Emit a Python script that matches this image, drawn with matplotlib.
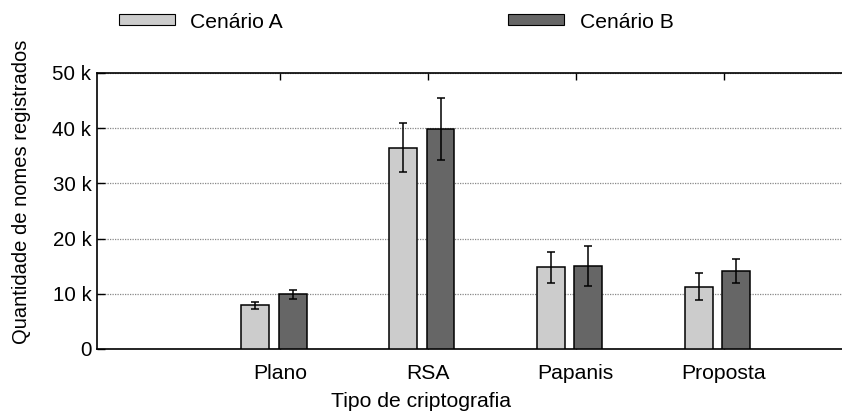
import numpy as np
import matplotlib
matplotlib.use('Agg')
import matplotlib.pyplot as plt
from matplotlib.ticker import FuncFormatter
from matplotlib.patches import Patch

# --- Dados ---
categorias = ['Plano', 'RSA', 'Papanis', 'Proposta']
cenario_a = [7950, 36500, 14800, 11300]
erro_a = [650, 4400, 2800, 2400]
cenario_b = [9900, 39900, 15000, 14150]
erro_b = [850, 5650, 3600, 2150]
y_ticks = [0, 10000, 20000, 30000, 40000, 50000]

# --- Estilo ---
plt.rcParams['font.family'] = ['Liberation Sans', 'DejaVu Sans']
FS = 15.2       # textos horizontais
FS_Y = 14.5     # rótulo vertical
COR_A = '#cccccc'
COR_B = '#666666'

fig = plt.figure(figsize=(8.42, 4.17), dpi=100)
ax = fig.add_axes([97 / 842, 1 - 349 / 417, 1 - 97 / 842, (349 - 73) / 417])

x = np.arange(1, len(categorias) + 1)
largura = 0.189

ax.bar(x - 0.166, cenario_a, largura, color=COR_A, edgecolor='black', linewidth=1.1, zorder=3)
ax.bar(x + 0.086, cenario_b, largura, color=COR_B, edgecolor='black', linewidth=1.1, zorder=3)
ax.errorbar(x - 0.166, cenario_a, yerr=erro_a, fmt='none', ecolor='black',
            elinewidth=1.1, capsize=2.6, capthick=1.1, zorder=4)
ax.errorbar(x + 0.086, cenario_b, yerr=erro_b, fmt='none', ecolor='black',
            elinewidth=1.1, capsize=2.6, capthick=1.1, zorder=4)

# eixos
ax.set_xlim(-0.236, 4.80)
ax.set_ylim(0, 50000)
ax.set_yticks(y_ticks)
ax.yaxis.set_major_formatter(FuncFormatter(lambda v, p: '0' if v == 0 else f'{int(v / 1000)} k'))
ax.set_xticks(x)
ax.set_xticklabels(categorias)
ax.tick_params(axis='y', direction='in', length=6, width=1, pad=4, labelsize=14.8, right=False)
ax.tick_params(axis='x', direction='in', length=5, width=1, pad=11, labelsize=FS, top=True)

ax.spines['right'].set_visible(False)
for s in ['left', 'top', 'bottom']:
    ax.spines[s].set_linewidth(1.2)

ax.yaxis.grid(True, linestyle=(0, (1, 1)), color='#888888', linewidth=0.9, zorder=0)
ax.set_axisbelow(True)

ax.set_ylabel('Quantidade de nomes registrados', fontsize=FS_Y)
ax.yaxis.set_label_coords(-0.0886, 0.569)
ax.set_xlabel('Tipo de criptografia', fontsize=FS)
ax.xaxis.set_label_coords(0.435, -0.155)

# legenda no topo
handles = [Patch(facecolor=COR_A, edgecolor='black', linewidth=0.8, label='Cenário A'),
           Patch(facecolor=COR_B, edgecolor='black', linewidth=0.8, label='Cenário B')]
fig.legend(handles=handles, loc='center left', bbox_to_anchor=(119 / 842, 1 - 22 / 417),
           ncol=2, frameon=False, fontsize=FS, borderpad=0, borderaxespad=0,
           handlelength=2.65, handleheight=0.42, handletextpad=0.72, columnspacing=10.68)

fig.savefig('out.png', dpi=100)
